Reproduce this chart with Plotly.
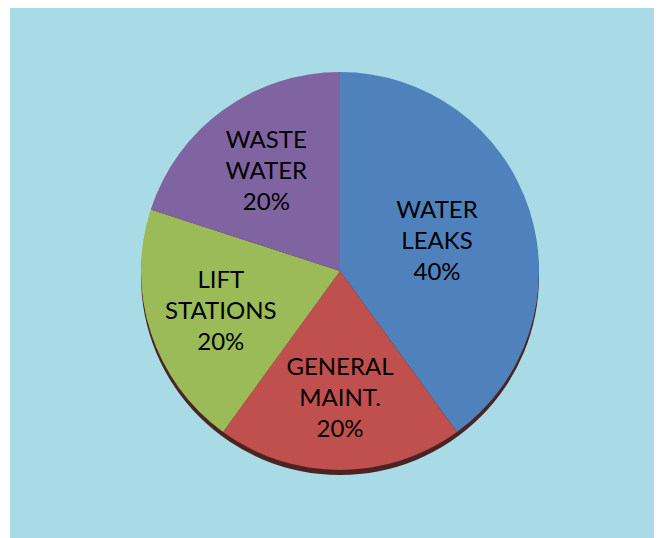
import plotly.graph_objects as go

labels = ["WATER<br>LEAKS", "GENERAL<br>MAINT.", "LIFT<br>STATIONS", "WASTE<br>WATER"]
values = [40, 20, 20, 20]
colors = ["#4F81BD", "#C0504D", "#9BBB59", "#8064A2"]

W, H = 662, 538

fig = go.Figure()
fig.add_trace(go.Pie(
    labels=labels,
    values=values,
    sort=False,
    direction="clockwise",
    rotation=0,
    marker=dict(colors=colors, line=dict(width=0)),
    texttemplate="%{label}<br>%{percent:.0%}",
    textposition="inside",
    insidetextorientation="horizontal",
    textfont=dict(family="Lato, 'Open Sans', sans-serif", size=24, color="black"),
    hoverinfo="label+percent",
    showlegend=False,
    domain=dict(x=[131 / W, 533 / W], y=[1 - 462 / H, 1 - 64 / H]),
))

fig.update_layout(
    width=W, height=H,
    margin=dict(l=0, r=0, t=0, b=0),
    paper_bgcolor="white",
    plot_bgcolor="white",
    uniformtext=dict(minsize=24, mode="show"),
    shapes=[
        dict(type="rect", xref="paper", yref="paper", x0=2 / W, x1=1, y0=0, y1=1,
             fillcolor="#A8DBE5", line=dict(width=0), layer="below"),
        dict(type="circle", xref="paper", yref="paper",
             x0=133 / W, x1=531 / W, y0=1 - 467 / H, y1=1 - 70 / H,
             fillcolor="#4B2323", line=dict(width=0), layer="below"),
    ],
)

fig.write_html("out.html")
